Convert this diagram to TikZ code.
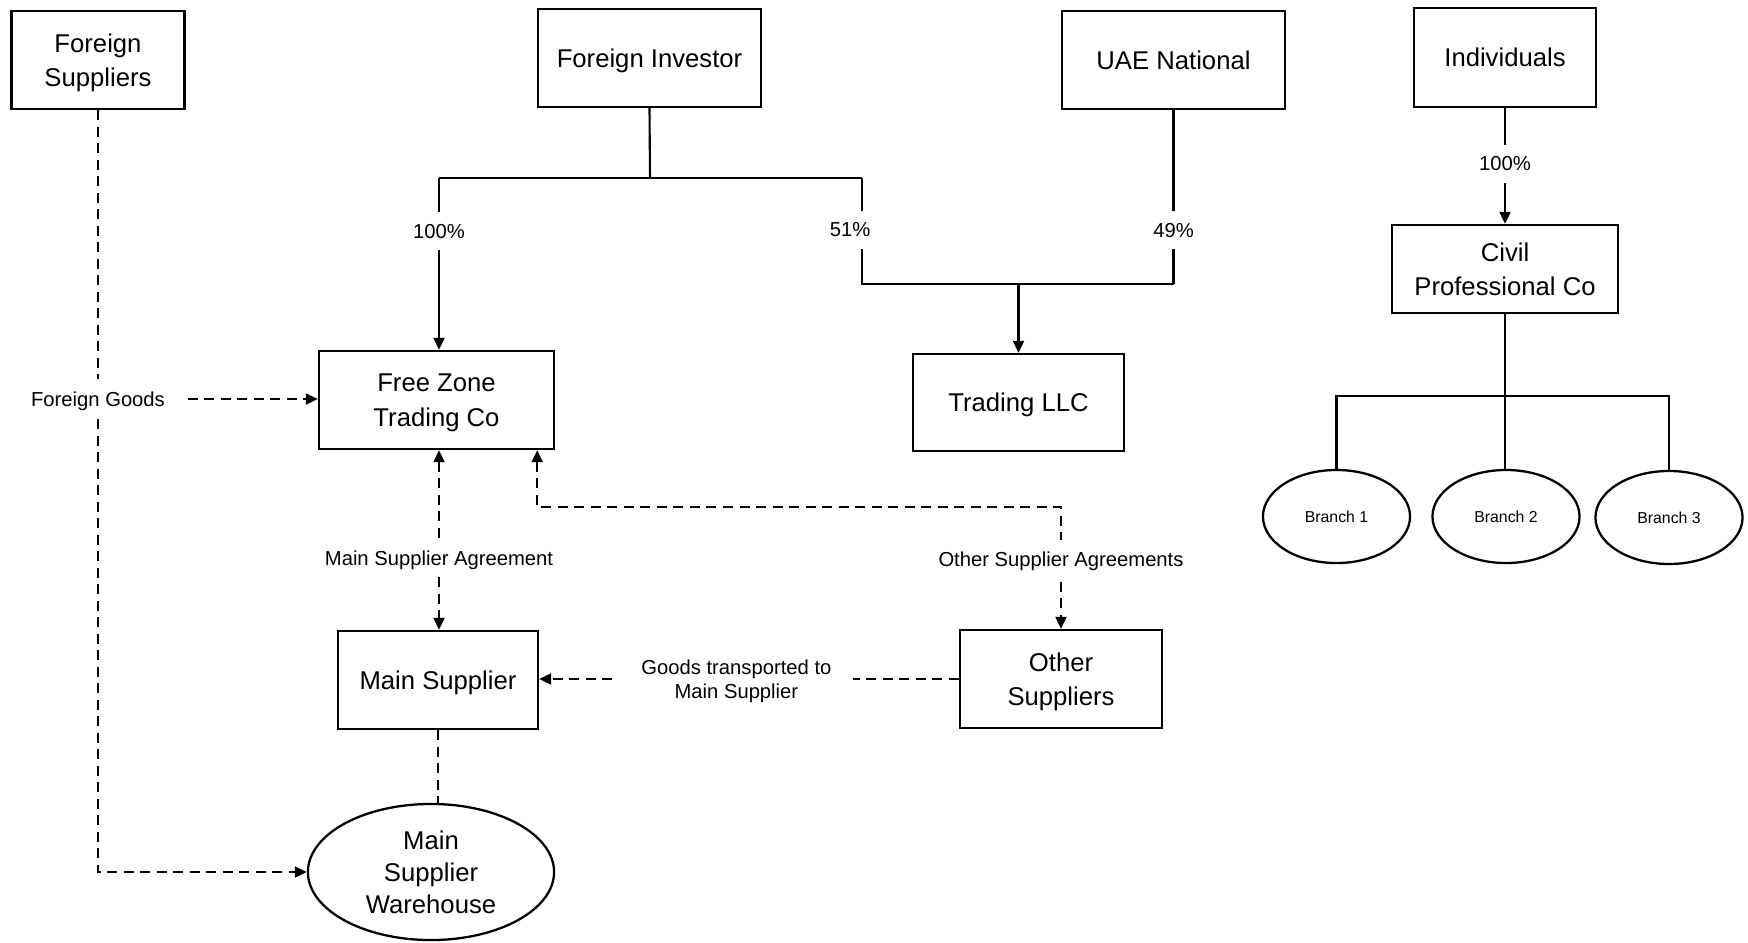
\documentclass[tikz,border=0pt]{standalone}
\usepackage{fontspec}
\setmainfont{Liberation Sans}
\usepackage{tikz}
\usetikzlibrary{arrows.meta}
\usetikzlibrary{shapes.geometric}
\usetikzlibrary{positioning,calc}
\tikzset{
    entity/.style={draw=black, line width=0.65pt, rectangle, inner sep=0pt, align=center,
        text depth=0pt, font=\fontsize{7.3pt}{9.8pt}\selectfont},
    store/.style={draw=black, line width=0.65pt, ellipse, inner sep=0pt, align=center,
        font=\fontsize{7.3pt}{9.1pt}\selectfont},
    branchnode/.style={draw=black, line width=0.65pt, ellipse, inner sep=0pt,
        minimum width=1.47cm, minimum height=0.93cm, font=\fontsize{4.5pt}{5.5pt}\selectfont},
    pct/.style={fill=white, inner xsep=0.06cm, inner ysep=0.12cm, font=\fontsize{5.75pt}{7pt}\selectfont},
    flowlabel/.style={fill=white, inner xsep=0.22cm, inner ysep=0.12cm, align=center,
        text depth=0pt, font=\fontsize{5.75pt}{7pt}\selectfont},
    share/.style={draw=black, line width=0.6pt},
    supply/.style={draw=black, line width=0.6pt, dash pattern=on 0.1cm off 0.065cm},
}

\begin{document}
\begin{tikzpicture}[x=0.01cm, y=-0.01cm, >={Triangle[length=0.12cm,width=0.11cm]}]
	\useasboundingbox (0,0) rectangle (1748,942);
	% owners and companies
	\node[entity, minimum width=1.73cm, minimum height=0.98cm] (fsup) at (98,60) {Foreign\\Suppliers};
	\node[entity, minimum width=2.23cm, minimum height=0.98cm] (finv) at (649.5,58) {Foreign Investor};
	\node[entity, minimum width=2.23cm, minimum height=0.98cm] (uae) at (1173.5,60) {UAE National};
	\node[entity, minimum width=1.82cm, minimum height=0.99cm] (indiv) at (1505,57.5) {Individuals};
	\node[entity, minimum width=2.26cm, minimum height=0.88cm] (civil) at (1505,269) {Civil\\Professional Co};
	\node[entity, minimum width=2.35cm, minimum height=0.98cm] (fz) at (436.5,400) {Free Zone\\Trading Co};
	\node[entity, minimum width=2.11cm, minimum height=0.97cm] (tllc) at (1018.5,402.5) {Trading LLC};
	\node[entity, minimum width=2.0cm, minimum height=0.98cm] (ms) at (438,680) {Main Supplier};
	\node[entity, minimum width=2.02cm, minimum height=0.98cm] (os) at (1061,679) {Other\\Suppliers};
	\node[store, minimum width=2.46cm, minimum height=1.36cm] (wh) at (431,872) {Main\\Supplier\\Warehouse};
	\node[branchnode] (b1) at (1336.5,516.5) {Branch 1};
	\node[branchnode] (b2) at (1506,516.5) {Branch 2};
	\node[branchnode] (b3) at (1669,517.5) {Branch 3};

	% ownership
	\coordinate (fisplit) at (650,178);
	\coordinate (fzjoin) at (439,178);
	\coordinate (lljoin) at (862,178);
	\coordinate (llleft) at (862,284);
	\coordinate (llright) at (uae.south |- llleft);
	\coordinate (llmid) at (tllc.north |- llleft);
	\coordinate (bus) at (1506,396);
	\draw[share] (finv.south) -- (fisplit);
	\draw[share] (fzjoin) -- (lljoin);
	\draw[share,->] (fzjoin) -- node[pct, pos=0.31] {100\%} (fzjoin |- fz.north);
	\draw[share] (lljoin) -- node[pct, pos=0.49, xshift=-0.12cm] {51\%} (llleft) -- (llright);
	\draw[share] (uae.south) -- node[pct, pos=0.69] {49\%} (llright);
	\draw[share,->] (llmid) -- (tllc.north);
	\draw[share,->] (indiv.south) -- node[pct, pos=0.48] {100\%} (civil.north);
	\draw[share] (civil.south) -- (civil.south |- b2.north);
	\draw[share] (b1.north) |- (bus) -| (b3.north);

	% goods and agreements
	\node[flowlabel] (fgoods) at (98,399) {Foreign Goods};
	\coordinate (osturn) at (1061,507);
	\draw[supply] (fsup.south) -- (fgoods);
	\draw[supply,->] (fgoods) |- (wh.west);
	\draw[supply,->] (fgoods) -- (fgoods -| fz.west);
	\draw[supply,<->] (fzjoin |- fz.south) -- node[flowlabel, pos=0.6] {Main Supplier Agreement} (fzjoin |- ms.north);
	\draw[supply,<->] ([xshift=-0.18cm]fz.south east) |- (osturn) -- node[flowlabel, pos=0.43] {Other Supplier Agreements} (os.north);
	\draw[supply,->] (os.west) -- node[flowlabel, pos=0.53] {Goods transported to\\Main Supplier} (os.west -| ms.east);
	\draw[supply] (ms.south) -- (ms.south |- wh.north);
\end{tikzpicture}
\end{document}
